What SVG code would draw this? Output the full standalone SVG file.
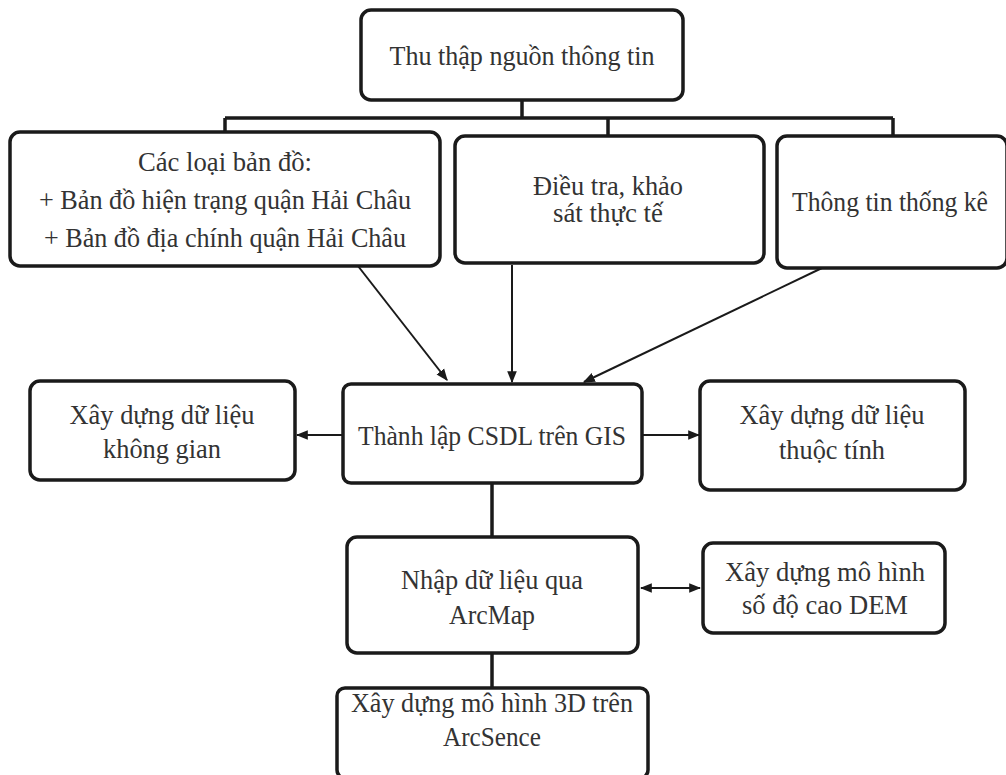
<svg xmlns="http://www.w3.org/2000/svg" width="1006" height="775" viewBox="0 0 1006 775">
<style>
.box{fill:#fff;stroke:#1a1a1a;stroke-width:3.5}
.t{font-family:"Liberation Serif","DejaVu Serif",serif;font-size:27px;fill:#333;text-anchor:middle}
.c{stroke:#1a1a1a;stroke-width:2;fill:none}
.cb{stroke:#1a1a1a;stroke-width:3.5;fill:none}
</style>
<defs>
<marker id="ah2" viewBox="0 0 10 10" refX="9" refY="5" markerWidth="12" markerHeight="12" orient="auto-start-reverse" markerUnits="userSpaceOnUse">
<path d="M0,1 L10,5 L0,9 Z" fill="#1a1a1a"/>
</marker>
</defs>
<rect width="1006" height="775" fill="#fff"/>
<g id="connectors">
<path class="cb" d="M522,100 V118 M225,118 H893 M225,118 V134 M608,118 V137 M893,118 V137"/>
<line class="c" x1="358" y1="266" x2="447" y2="380" marker-end="url(#ah2)"/>
<line class="c" x1="512" y1="265" x2="512" y2="382" marker-end="url(#ah2)"/>
<line class="c" x1="822" y1="268" x2="584" y2="382" marker-end="url(#ah2)"/>
<line class="c" x1="343" y1="435" x2="297" y2="435" marker-end="url(#ah2)"/>
<line class="c" x1="642" y1="435" x2="699" y2="435" marker-end="url(#ah2)"/>
<line class="cb" x1="492" y1="483" x2="492" y2="537"/>
<line class="c" x1="641" y1="588" x2="700" y2="588" marker-start="url(#ah2)" marker-end="url(#ah2)"/>
<line class="cb" x1="492" y1="653" x2="492" y2="688"/>
</g>
<g id="n-thu-thap">
<rect class="box" x="361" y="10" width="322" height="90" rx="10"/>
<text class="t" x="522" y="65" textLength="265" lengthAdjust="spacingAndGlyphs">Thu thập nguồn thông tin</text>
</g>
<g id="n-ban-do">
<rect class="box" x="10" y="132" width="430" height="134" rx="10"/>
<text class="t" x="225" y="171" textLength="174" lengthAdjust="spacingAndGlyphs">Các loại bản đồ:</text>
<text class="t" x="225" y="209" textLength="372" lengthAdjust="spacingAndGlyphs">+ Bản đồ hiện trạng quận Hải Châu</text>
<text class="t" x="225" y="247" textLength="362" lengthAdjust="spacingAndGlyphs">+ Bản đồ địa chính quận Hải Châu</text>
</g>
<g id="n-dieu-tra">
<rect class="box" x="455" y="136" width="309" height="127" rx="10"/>
<text class="t" x="608" y="195" textLength="150" lengthAdjust="spacingAndGlyphs">Điều tra, khảo</text>
<text class="t" x="608" y="222" textLength="110" lengthAdjust="spacingAndGlyphs">sát thực tế</text>
</g>
<g id="n-thong-ke">
<rect class="box" x="777" y="136" width="230" height="132" rx="10"/>
<text class="t" x="890" y="211" textLength="196" lengthAdjust="spacingAndGlyphs">Thông tin thống kê</text>
</g>
<g id="n-csdl">
<rect class="box" x="343" y="384" width="299" height="99" rx="8"/>
<text class="t" x="492" y="445" textLength="268" lengthAdjust="spacingAndGlyphs">Thành lập CSDL trên GIS</text>
</g>
<g id="n-khong-gian">
<rect class="box" x="30" y="381" width="265" height="99" rx="10"/>
<text class="t" x="162" y="424" textLength="185" lengthAdjust="spacingAndGlyphs">Xây dựng dữ liệu</text>
<text class="t" x="162" y="458" textLength="118" lengthAdjust="spacingAndGlyphs">không gian</text>
</g>
<g id="n-thuoc-tinh">
<rect class="box" x="700" y="381" width="265" height="109" rx="10"/>
<text class="t" x="832" y="424" textLength="185" lengthAdjust="spacingAndGlyphs">Xây dựng dữ liệu</text>
<text class="t" x="832" y="459" textLength="106" lengthAdjust="spacingAndGlyphs">thuộc tính</text>
</g>
<g id="n-arcmap">
<rect class="box" x="347" y="537" width="291" height="116" rx="10"/>
<text class="t" x="492" y="589" textLength="182" lengthAdjust="spacingAndGlyphs">Nhập dữ liệu qua</text>
<text class="t" x="492" y="624" textLength="86" lengthAdjust="spacingAndGlyphs">ArcMap</text>
</g>
<g id="n-dem">
<rect class="box" x="703" y="543" width="242" height="90" rx="10"/>
<text class="t" x="825" y="581" textLength="200" lengthAdjust="spacingAndGlyphs">Xây dựng mô hình</text>
<text class="t" x="825" y="614" textLength="166" lengthAdjust="spacingAndGlyphs">số độ cao DEM</text>
</g>
<g id="n-3d">
<rect class="box" x="337" y="688" width="311" height="90" rx="8"/>
<text class="t" x="492" y="712" textLength="282" lengthAdjust="spacingAndGlyphs">Xây dựng mô hình 3D trên</text>
<text class="t" x="492" y="746" textLength="98" lengthAdjust="spacingAndGlyphs">ArcSence</text>
</g>
</svg>
